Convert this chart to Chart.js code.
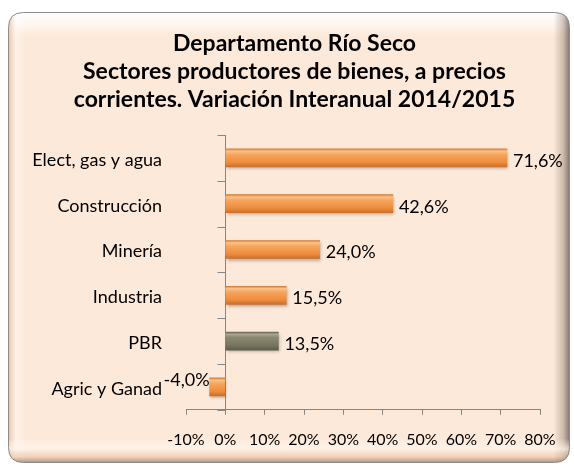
<!DOCTYPE html>
<html>
<head>
<meta charset="utf-8">
<script src="https://cdn.jsdelivr.net/npm/chart.js@4.4.1/dist/chart.umd.min.js"></script>
<style>
  html, body { margin: 0; padding: 0; background: #ffffff; }
  #wrap { width: 574px; height: 466px; }
</style>
</head>
<body>
<div id="wrap"><canvas id="c" width="574" height="466"></canvas></div>
<script>
const titleLines = [
  'Departamento Río Seco',
  'Sectores productores de bienes, a precios',
  'corrientes. Variación Interanual 2014/2015'
];
const categories = ['Elect, gas y agua', 'Construcción', 'Minería', 'Industria', 'PBR', 'Agric y Ganad'];
const values = [71.6, 42.6, 24.0, 15.5, 13.5, -4.0];
const xTickMin = -10;
const xTickMax = 80;
const xTickStep = 10;
const highlightCategory = 'PBR';

const FONT = 'Lato, "Open Sans", "DejaVu Sans", sans-serif';

function barGradient(c) {
  const chart = c.chart;
  const isHi = categories[c.dataIndex] === highlightCategory;
  if (!chart.chartArea) return isHi ? '#7a7862' : '#f0913f';
  const y = chart.scales.y.getPixelForValue(c.dataIndex);
  const g = chart.ctx.createLinearGradient(0, y - 9, 0, y + 9);
  if (isHi) {
    g.addColorStop(0, '#6a6852');
    g.addColorStop(0.12, '#a9a78f');
    g.addColorStop(0.3, '#8a8870');
    g.addColorStop(0.75, '#76745e');
    g.addColorStop(1, '#5f5d4a');
  } else {
    g.addColorStop(0, '#d87a30');
    g.addColorStop(0.12, '#fbc38c');
    g.addColorStop(0.32, '#f6a55c');
    g.addColorStop(0.75, '#ee8c3d');
    g.addColorStop(1, '#c96f2b');
  }
  return g;
}

function roundRectPath(ctx, x, y, w, h, r) {
  ctx.beginPath();
  ctx.moveTo(x + r, y);
  ctx.lineTo(x + w - r, y);
  ctx.quadraticCurveTo(x + w, y, x + w, y + r);
  ctx.lineTo(x + w, y + h - r);
  ctx.quadraticCurveTo(x + w, y + h, x + w - r, y + h);
  ctx.lineTo(x + r, y + h);
  ctx.quadraticCurveTo(x, y + h, x, y + h - r);
  ctx.lineTo(x, y + r);
  ctx.quadraticCurveTo(x, y, x + r, y);
  ctx.closePath();
}

const framePlugin = {
  id: 'frame',
  beforeDraw(chart) {
    const ctx = chart.ctx;
    const W = chart.width, H = chart.height;
    ctx.save();
    ctx.fillStyle = '#ffffff';
    ctx.fillRect(0, 0, W, H);
    const x = 8.5, y = 12.5, w = 561, h = 450, r = 15;
    roundRectPath(ctx, x, y, w, h, r);
    ctx.fillStyle = '#fde9d9';
    ctx.fill();
    ctx.save();
    roundRectPath(ctx, x, y, w, h, r);
    ctx.clip();
    let g = ctx.createLinearGradient(0, y, 0, y + 24);
    g.addColorStop(0, 'rgba(255,255,255,0.95)');
    g.addColorStop(0.5, 'rgba(255,255,255,0.6)');
    g.addColorStop(1, 'rgba(255,255,255,0)');
    ctx.fillStyle = g; ctx.fillRect(x, y, w, 24);
    g = ctx.createLinearGradient(x, 0, x + 18, 0);
    g.addColorStop(0, 'rgba(205,150,110,0.45)');
    g.addColorStop(0.4, 'rgba(255,255,255,0.35)');
    g.addColorStop(1, 'rgba(255,255,255,0)');
    ctx.fillStyle = g; ctx.fillRect(x, y, 18, h);
    g = ctx.createLinearGradient(x + w - 16, 0, x + w, 0);
    g.addColorStop(0, 'rgba(120,100,90,0)');
    g.addColorStop(0.6, 'rgba(120,100,90,0.35)');
    g.addColorStop(1, 'rgba(90,80,75,0.75)');
    ctx.fillStyle = g; ctx.fillRect(x + w - 16, y, 16, h);
    g = ctx.createLinearGradient(0, y + h - 24, 0, y + h);
    g.addColorStop(0, 'rgba(255,255,255,0)');
    g.addColorStop(0.45, 'rgba(255,245,235,0.7)');
    g.addColorStop(0.75, 'rgba(230,190,160,0.5)');
    g.addColorStop(1, 'rgba(140,110,95,0.7)');
    ctx.fillStyle = g; ctx.fillRect(x, y + h - 24, w, 24);
    ctx.restore();
    roundRectPath(ctx, x, y, w, h, r);
    ctx.strokeStyle = '#8c8c8c';
    ctx.lineWidth = 1;
    ctx.stroke();
    ctx.restore();
  },
  beforeDatasetsDraw(chart) {
    const ctx = chart.ctx;
    const area = chart.chartArea;
    const x0 = Math.round(chart.scales.x.getPixelForValue(0)) + 0.5;
    const n = categories.length;
    ctx.save();
    ctx.strokeStyle = '#868686';
    ctx.lineWidth = 1;
    ctx.beginPath();
    ctx.moveTo(x0, area.top);
    ctx.lineTo(x0, area.bottom);
    for (let i = 0; i <= n; i++) {
      const yy = Math.round(area.top + i * (area.bottom - area.top) / n) + 0.5;
      ctx.moveTo(x0 - 8, yy);
      ctx.lineTo(x0, yy);
    }
    ctx.stroke();
    ctx.restore();
    ctx.save();
    ctx.shadowColor = 'rgba(0,0,0,0.28)';
    ctx.shadowBlur = 3;
    ctx.shadowOffsetY = 2;
    ctx.shadowOffsetX = 1;
  },
  afterDatasetsDraw(chart) {
    const ctx = chart.ctx;
    ctx.restore();
    const meta = chart.getDatasetMeta(0);
    ctx.save();
    ctx.fillStyle = '#000000';
    ctx.font = '18px ' + FONT;
    ctx.textBaseline = 'middle';
    meta.data.forEach((bar, i) => {
      const v = values[i];
      const txt = v.toFixed(1).replace('.', ',') + '%';
      if (v >= 0) {
        ctx.textAlign = 'left';
        ctx.fillText(txt, bar.x + 6, bar.y + 3);
      } else {
        ctx.textAlign = 'right';
        ctx.fillText(txt, bar.x, bar.y - 7);
      }
    });
    ctx.restore();
  },
  afterDraw(chart) {
    const ctx = chart.ctx;
    ctx.save();
    ctx.fillStyle = '#000000';
    ctx.font = 'bold 23px ' + FONT;
    ctx.textAlign = 'center';
    ctx.textBaseline = 'middle';
    titleLines.forEach((line, i) => {
      ctx.fillText(line, 294.5, 44 + i * 28);
    });
    ctx.restore();
  }
};

new Chart(document.getElementById('c'), {
  type: 'bar',
  data: {
    labels: categories,
    datasets: [{
      data: values,
      backgroundColor: barGradient,
      borderWidth: 0,
      barThickness: 18
    }]
  },
  options: {
    indexAxis: 'y',
    responsive: false,
    animation: false,
    devicePixelRatio: 1,
    layout: { padding: { left: 0, right: 34, top: 135, bottom: 2 } },
    plugins: {
      legend: { display: false },
      tooltip: { enabled: false },
      title: { display: false }
    },
    scales: {
      x: {
        min: xTickMin,
        max: xTickMax,
        ticks: {
          stepSize: xTickStep,
          autoSkip: false,
          color: '#000000',
          font: { family: FONT, size: 16 },
          padding: 15,
          maxRotation: 0,
          minRotation: 0,
          callback: v => v + '%'
        },
        border: { display: true, color: '#868686', width: 1 },
        grid: { drawOnChartArea: false, drawTicks: true, tickLength: 5, color: '#868686' }
      },
      y: {
        afterFit(scale) { scale.width = 186; },
        ticks: {
          color: '#000000',
          font: { family: FONT, size: 18 },
          padding: 24,
          labelOffset: 2
        },
        border: { display: false },
        grid: { display: false, drawTicks: false }
      }
    }
  },
  plugins: [framePlugin]
});
</script>
</body>
</html>
